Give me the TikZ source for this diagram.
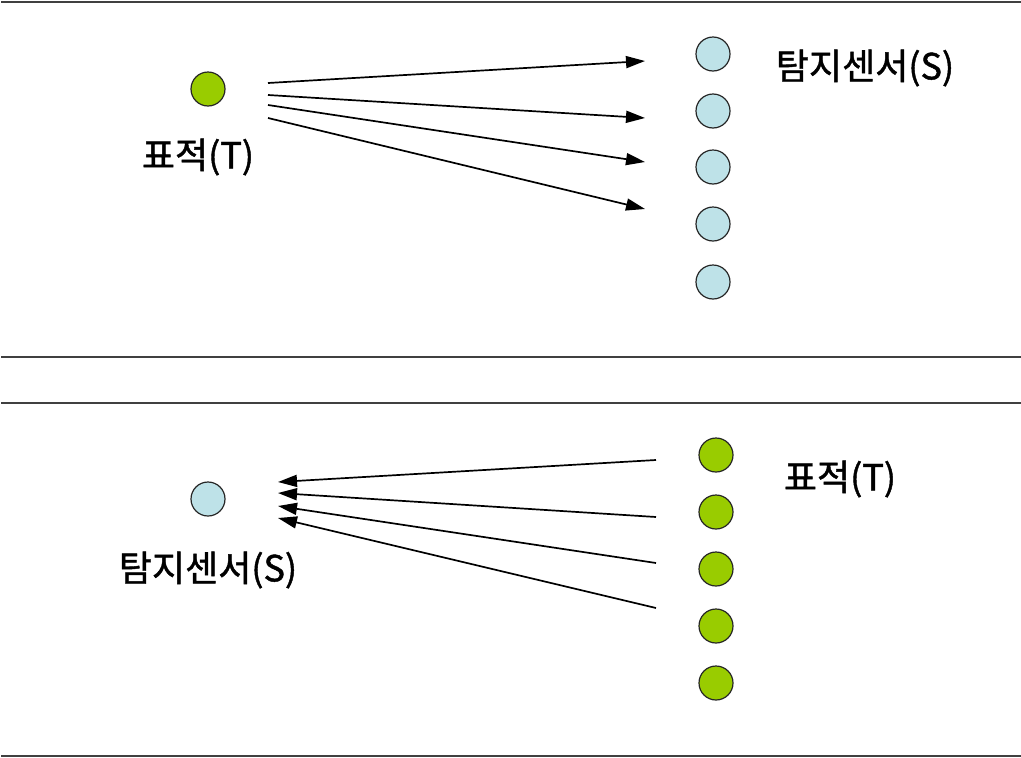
\documentclass[tikz,border=0pt]{standalone}
\usepackage{fontspec}
\newfontfamily\kr[FakeBold=1.2]{Noto Sans CJK KR}
\usetikzlibrary{arrows.meta}
\definecolor{tgtgreen}{RGB}{153,204,0}
\definecolor{senblue}{RGB}{190,226,232}
\tikzset{
  target/.style={circle,draw=black!85,line width=1.2pt,fill=tgtgreen,minimum size=34pt,inner sep=0pt},
  sensor/.style={circle,draw=black!85,line width=1.2pt,fill=senblue,minimum size=34pt,inner sep=0pt},
  lbl/.style={font=\kr\fontsize{36}{40}\selectfont,inner sep=0pt},
  ray/.style={line width=1.7pt,-{Triangle[length=19pt,width=12pt]}},
  rule/.style={line width=1.4pt,black!75}
}
\begin{document}
\begin{tikzpicture}[x=1pt,y=-1pt]
\useasboundingbox (0,0) rectangle (1021,758);
% section rules
\coordinate (r1a) at (1,2);   \coordinate (r1b) at (1021,2);
\coordinate (r2a) at (1,357); \coordinate (r2b) at (1021,357);
\coordinate (r3a) at (1,403); \coordinate (r3b) at (1021,403);
\coordinate (r4a) at (1,756); \coordinate (r4b) at (1021,756);
\draw[rule] (r1a) -- (r1b);
\draw[rule] (r2a) -- (r2b);
\draw[rule] (r3a) -- (r3b);
\draw[rule] (r4a) -- (r4b);

% upper panel: one target, sensor column
\node[target] (T) at (208,89) {};
\node[lbl] (Tl) at (198,157) {표적(T)};
\foreach \i/\y in {1/54,2/111,3/167,4/224,5/282}
  \node[sensor] (S\i) at (713,\y) {};
\node[lbl] (Sl) at (865,68) {탐지센서(S)};
\coordinate (a1) at (268,83);  \coordinate (b1) at (645,61);
\coordinate (a2) at (268,95);  \coordinate (b2) at (645,118);
\coordinate (a3) at (268,105); \coordinate (b3) at (645,162);
\coordinate (a4) at (268,118); \coordinate (b4) at (645,209);
\foreach \k in {1,...,4} \draw[ray] (a\k) -- (b\k);

% lower panel: one sensor, target column
\node[sensor] (S) at (208,499) {};
\node[lbl] (Sl2) at (208,570) {탐지센서(S)};
\foreach \i/\y in {1/455,2/512,3/569,4/626,5/683}
  \node[target] (T\i) at (716,\y) {};
\node[lbl] (Tl2) at (840,479) {표적(T)};
\coordinate (c1) at (656,460); \coordinate (d1) at (278,482);
\coordinate (c2) at (656,517); \coordinate (d2) at (278,493);
\coordinate (c3) at (656,563); \coordinate (d3) at (278,506);
\coordinate (c4) at (656,608); \coordinate (d4) at (278,518);
\foreach \k in {1,...,4} \draw[ray] (c\k) -- (d\k);
\end{tikzpicture}
\end{document}
